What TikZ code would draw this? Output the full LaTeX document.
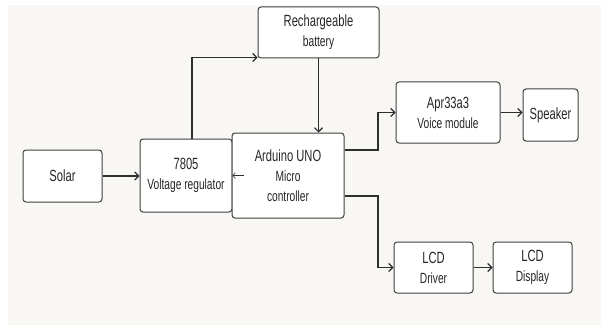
\documentclass[tikz,border=0pt]{standalone}
\usepackage{fontspec}
\newfontfamily\nar[FakeStretch=0.69]{Liberation Sans}
\usetikzlibrary{arrows.meta}
\definecolor{bg}{HTML}{F8F7F3}
\definecolor{edge}{HTML}{404040}
\definecolor{wire}{HTML}{2E2E2E}
\tikzset{
  blk/.style={draw=edge, line width=1pt, fill=white, rounded corners=3pt, align=center, inner sep=0pt, font=\nar\fontsize{14.8}{20}\selectfont, text=black!85},
  arr/.style={draw=wire, line width=1.2pt, -{Straight Barb[length=4pt,width=8pt,line width=1.1pt]}},
  small/.style={draw=wire, line width=0.9pt, -{Straight Barb[length=2.5pt,width=6pt,line width=0.6pt]}}
}
\newcommand{\ttl}[1]{{\fontsize{16.2}{20}\selectfont #1}}
\begin{document}
\begin{tikzpicture}[x=1pt,y=-1pt]
\useasboundingbox (0,0) rectangle (601,326);
\fill[bg] (8,5) rectangle (601,325);
\node[blk, minimum width=79pt, minimum height=52pt] (solar) at (62.5,176) {\ttl{Solar}};
\node[blk, minimum width=92pt, minimum height=73pt] (reg) at (186,175.5) {\ttl{7805}\\Voltage regulator};
\node[blk, minimum width=112pt, minimum height=85pt] (ard) at (288,175.5) {\ttl{Arduino UNO}\\Micro\\controller};
\node[blk, minimum width=121pt, minimum height=51pt] (bat) at (318.5,32.5) {\ttl{Rechargeable}\\battery};
\node[blk, minimum width=104pt, minimum height=61pt] (apr) at (448,112.5) {\ttl{Apr33a3}\\Voice module};
\node[blk, minimum width=55pt, minimum height=52pt] (spk) at (550.5,115) {\ttl{Speaker}};
\node[blk, minimum width=79pt, minimum height=51pt] (drv) at (433.5,267.5) {\ttl{LCD}\\Driver};
\node[blk, minimum width=79pt, minimum height=51pt] (disp) at (532.5,267.5) {\ttl{LCD}\\Display};
\draw[arr] (solar.east) -- (solar.east -| reg.west);
\draw[arr] ([xshift=6pt]reg.north) |- ([yshift=1pt]bat.south west);
\draw[arr] (bat.south) -- (bat.south |- ard.north);
\draw[small] ([xshift=12pt]ard.west) -- ([xshift=1pt]ard.west);
\draw[arr] ([yshift=25.5pt]ard.east) -- (378,150) |- (apr.west);
\draw[arr] ([yshift=-20.5pt]ard.east) -- (378,196) |- (drv.west);
\draw[arr] (apr.east) -- (apr.east -| spk.west);
\draw[arr] (drv.east) -- (disp.west);
\end{tikzpicture}
\end{document}
